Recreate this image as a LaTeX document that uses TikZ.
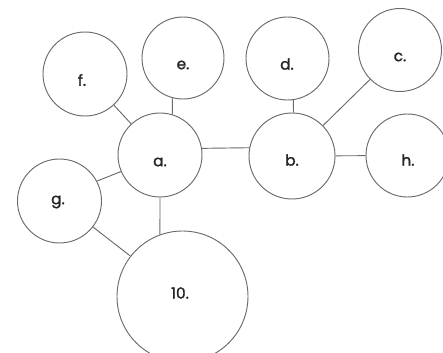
\documentclass[tikz,border=0pt]{standalone}
\usepackage{fontspec}
\setsansfont{Poppins}
\newfontfamily\tagfont{Poppins}[FakeBold=1.6]
\usepackage{tikz}
\usetikzlibrary{arrows.meta,calc}
\definecolor{dgLine}{HTML}{6A6A6A}
\definecolor{dgText}{HTML}{262626}

\begin{document}
\begin{tikzpicture}[x=0.75pt, y=-0.75pt,
  bubble/.style={circle, draw=dgLine, line width=0.7pt, inner sep=0pt},
  tag/.style={font=\tagfont\fontsize{11.5}{12}\selectfont, text=dgText},
  link/.style={draw=dgLine, line width=0.7pt}]
  \useasboundingbox (0,0) rectangle (443,353);
  \clip (0,0) rectangle (443,353);
  \foreach \n/\x/\y/\r/\lx/\ly/\t in {
    f/85/74/42/82/80/f.,
    e/183/58/41/183/65/e.,
    d/287.5/58.5/41.5/287/64/d.,
    c/400/50/41.5/400/57/c.,
    a/160/155/42/160/162/a.,
    b/292/156/43/292/160/b.,
    h/407.5/155.5/41.5/408/160/h.,
    g/59.5/201/42/58/202/g.,
    ten/182.5/296.5/65.5/180/293/10.
  } {
    \node[bubble, minimum size=1.5pt*\r] (\n) at (\x,\y) {};
    \node[tag] (\n-t) at (\lx,\ly) {\t};
  }
  % links between the circles
  \draw[link] (f) -- (a);
  \draw[link] (e.-105.6) -- (a.73.4);
  \draw[link] (a.9.6) -- (b.169.3);
  \draw[link] (d.-82.4) -- (b.88.7);
  \draw[link] (b) -- (c);
  \draw[link] (b) -- (h);
  \draw[link] (g.28) -- (a.203);
  \draw[link] (g) -- (ten);
  \draw[link] (a.south) -- (ten.110);
\end{tikzpicture}
\end{document}
